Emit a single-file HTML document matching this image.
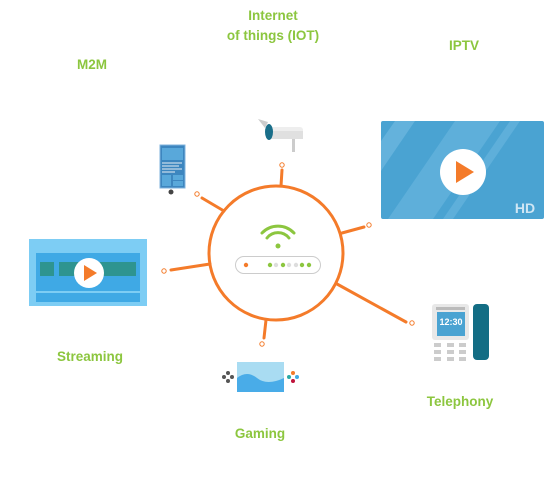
<!DOCTYPE html>
<html><head><meta charset="utf-8"><style>
html,body{margin:0;padding:0;background:#fff;}
svg{display:block}
text{font-family:"Liberation Sans",Arial,sans-serif;font-weight:bold;}
</style></head><body>
<svg width="555" height="488" viewBox="0 0 555 488" xmlns="http://www.w3.org/2000/svg">
<g fill="#8cc63f" font-size="13.5" text-anchor="middle">
<text x="273" y="20">Internet</text>
<text x="273" y="40">of things (IOT)</text>
<text x="92" y="69">M2M</text>
<text x="464" y="50">IPTV</text>
<text x="90" y="361">Streaming</text>
<text x="460" y="406">Telephony</text>
<text x="260" y="438">Gaming</text>
</g>
<!-- spokes -->
<g stroke="#f47b2a" stroke-width="3" stroke-linecap="round" fill="none">
<circle cx="276" cy="253" r="67"/>
<line x1="281" y1="186" x2="282" y2="170"/>
<line x1="224" y1="211" x2="202" y2="198"/>
<line x1="342" y1="233" x2="364" y2="227"/>
<line x1="210" y1="264" x2="171" y2="270"/>
<line x1="266" y1="320" x2="264" y2="338"/>
<line x1="337" y1="284" x2="406" y2="322"/>
</g>
<g stroke="#f47b2a" stroke-width="1" fill="#fff">
<circle cx="282" cy="165" r="2.2"/>
<circle cx="197" cy="194" r="2.2"/>
<circle cx="369" cy="225" r="2.2"/>
<circle cx="164" cy="271" r="2.2"/>
<circle cx="262" cy="344" r="2.2"/>
<circle cx="412" cy="323" r="2.2"/>
</g>
<!-- router -->
<g fill="none" stroke="#8cc63f" stroke-width="3" stroke-linecap="round">
<path d="M262 233 A22 22 0 0 1 294 233"/>
<path d="M267 238 A14 14 0 0 1 289 238"/>
</g>
<circle cx="278" cy="246" r="2.5" fill="#8cc63f"/>
<rect x="235.5" y="256.5" width="85" height="17" rx="8.5" fill="#fff" stroke="#ccc"/>
<circle cx="246" cy="265" r="2.2" fill="#f47b2a"/>
<g fill="#8cc63f"><circle cx="270" cy="265" r="2.2"/><circle cx="283" cy="265" r="2.2"/><circle cx="302" cy="265" r="2.2"/><circle cx="309" cy="265" r="2.2"/></g>
<g fill="#ddd"><circle cx="276" cy="265" r="2.2"/><circle cx="289" cy="265" r="2.2"/><circle cx="296" cy="265" r="2.2"/></g>
<!-- IPTV -->
<rect x="381" y="121" width="163" height="98" rx="2" fill="#4aa3d2"/>
<polygon points="395,121 415,121 385,165 381,171 381,141" fill="#64b2dc"/>
<polygon points="455,121 500,121 433,219 388,219" fill="#5eafda"/>
<polygon points="510,121 520,121 453,219 443,219" fill="#5eafda"/>
<circle cx="463" cy="172" r="23" fill="#fff"/>
<polygon points="456,161 456,183 474,172" fill="#f47b2a"/>
<text x="525" y="213" fill="#cfe6f4" font-size="14" text-anchor="middle">HD</text>
<!-- Streaming -->
<rect x="29" y="239" width="118" height="67" fill="#7dcdf4"/>
<rect x="36" y="253" width="104" height="38" fill="#3fa9e5"/>
<rect x="36" y="293" width="104" height="9" fill="#3fa9e5"/>
<rect x="40" y="262" width="14" height="14" fill="#2e9490"/>
<rect x="59" y="262" width="77" height="14" fill="#2e9490"/>
<circle cx="89" cy="273" r="15" fill="#fff"/>
<polygon points="84,265 84,281 97,273" fill="#f47b2a"/>
<!-- tablet -->
<rect x="160" y="145" width="25" height="43" fill="#3d86bf" stroke="#7fb3de"/>
<rect x="162" y="148" width="21" height="12" fill="#59a8da"/>
<g stroke="#e6eef6" stroke-width="1"><line x1="162" y1="163" x2="182" y2="163"/><line x1="162" y1="166" x2="179" y2="166"/><line x1="162" y1="169" x2="182" y2="169"/><line x1="162" y1="172" x2="175" y2="172"/></g>
<rect x="162" y="175" width="9" height="11" fill="#59a8da"/><rect x="173" y="175" width="10" height="5" fill="#59a8da"/><rect x="173" y="181" width="10" height="5" fill="#59a8da"/>
<circle cx="171" cy="192" r="2.5" fill="#444"/>
<!-- camera -->
<path d="M258 119 L268 122 L265 128 Z" fill="#ccc"/>
<rect x="269" y="127" width="34" height="12" rx="3" fill="#eee"/>
<rect x="271" y="131" width="32" height="8" fill="#e0e0e0"/>
<rect x="292" y="139" width="3" height="13" fill="#ccc"/>
<ellipse cx="269" cy="132" rx="4" ry="8" fill="#1a6f8a"/>
<!-- telephony -->
<rect x="432" y="304" width="37" height="36" rx="3" fill="#e8e8e8"/>
<rect x="436" y="307" width="29" height="3" fill="#bbb"/>
<rect x="437" y="312" width="28" height="24" fill="#4aa3d2"/>
<text x="451" y="325" fill="#fff" font-size="9" text-anchor="middle">12:30</text>
<g fill="#ccc"><rect x="434" y="343" width="7" height="4"/><rect x="447" y="343" width="7" height="4"/><rect x="459" y="343" width="7" height="4"/><rect x="434" y="350" width="7" height="4"/><rect x="447" y="350" width="7" height="4"/><rect x="459" y="350" width="7" height="4"/><rect x="434" y="357" width="7" height="4"/><rect x="447" y="357" width="7" height="4"/><rect x="459" y="357" width="7" height="4"/></g>
<rect x="473" y="304" width="16" height="56" rx="4" fill="#136d84"/>
<!-- gaming -->
<rect x="237" y="362" width="47" height="30" fill="#a9dcf2"/>
<path d="M237 378 Q247 370 257 378 T284 378 L284 392 L237 392 Z" fill="#49ace8"/>
<g fill="#555"><circle cx="228" cy="373" r="2"/><circle cx="224" cy="377" r="2"/><circle cx="232" cy="377" r="2"/><circle cx="228" cy="381" r="2"/></g>
<circle cx="293" cy="373" r="2" fill="#f47b2a"/><circle cx="289" cy="377" r="2" fill="#2aa9a6"/><circle cx="297" cy="377" r="2" fill="#3fa9e5"/><circle cx="293" cy="381" r="2" fill="#c0143c"/>
</svg>
</body></html>
